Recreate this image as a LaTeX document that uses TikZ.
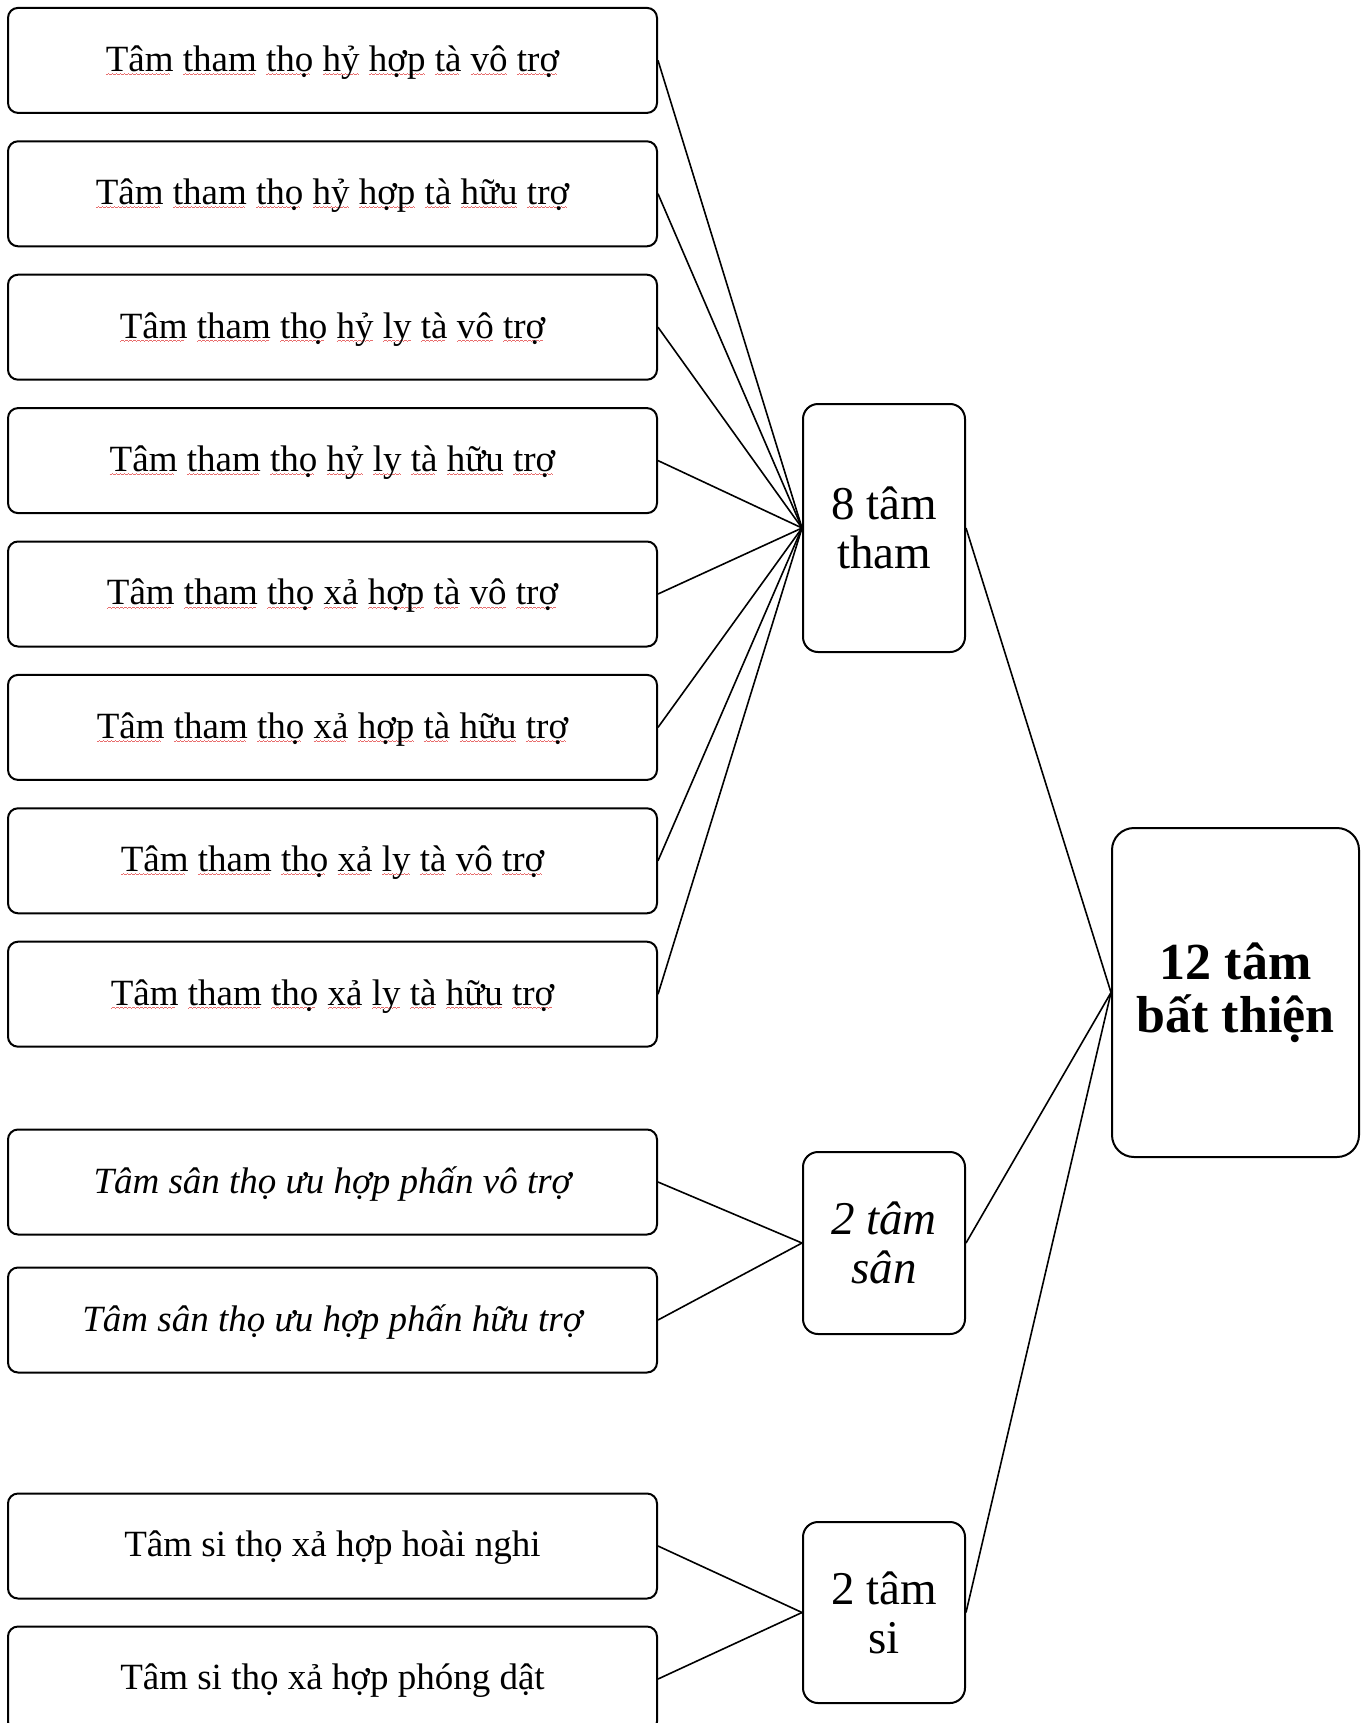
\documentclass[tikz,border=0pt]{standalone}
\usepackage{fontspec}
\setmainfont{Liberation Serif}
\definecolor{spell}{RGB}{232,110,110}
% one period of a small red zigzag, repeated under a word
\newcommand\wunit{\hbox{\rule[-3.4pt]{1pt}{0.6pt}\rule[-2.9pt]{1pt}{0.6pt}\rule[-2.4pt]{1pt}{0.6pt}\rule[-2.9pt]{1pt}{0.6pt}}}
\newcommand\wv[1]{\setbox0\hbox{#1}\rlap{\hbox to \wd0{\color{spell}\leaders\wunit\hfill}}\box0\relax}
\tikzset{
  leaf/.style={draw, line width=2pt, rounded corners=10pt, minimum width=649pt,
    minimum height=105pt, align=center, font=\fontsize{37}{44}\selectfont,
    text depth=4pt, inner sep=0pt},
  group/.style={draw, line width=2pt, rounded corners=15pt, minimum width=162pt,
    align=center, font=\fontsize{47}{49}\selectfont, inner sep=0pt},
  total/.style={draw, line width=2pt, rounded corners=22pt, minimum width=247pt,
    minimum height=329pt, align=center, font=\fontsize{52}{53}\selectfont\bfseries, inner sep=0pt},
  link/.style={line width=1.6pt}
}
\begin{document}
\begin{tikzpicture}[x=1pt,y=-1pt]
\useasboundingbox (0,0) rectangle (1368,1723);
\clip (0,0) rectangle (1368,1723);

% eight greed-rooted states
\node[leaf] (t1) at (332.5,60.4)  {\wv{Tâm} \wv{tham} \wv{thọ} \wv{hỷ} \wv{hợp} \wv{tà} \wv{vô} \wv{trợ}};
\node[leaf] (t2) at (332.5,193.8) {\wv{Tâm} \wv{tham} \wv{thọ} \wv{hỷ} \wv{hợp} \wv{tà} \wv{hữu} \wv{trợ}};
\node[leaf] (t3) at (332.5,327.2) {\wv{Tâm} \wv{tham} \wv{thọ} \wv{hỷ} \wv{ly} \wv{tà} \wv{vô} \wv{trợ}};
\node[leaf] (t4) at (332.5,460.6) {\wv{Tâm} \wv{tham} \wv{thọ} \wv{hỷ} \wv{ly} \wv{tà} \wv{hữu} \wv{trợ}};
\node[leaf] (t5) at (332.5,594.0) {\wv{Tâm} \wv{tham} \wv{thọ} \wv{xả} \wv{hợp} \wv{tà} \wv{vô} \wv{trợ}};
\node[leaf] (t6) at (332.5,727.4) {\wv{Tâm} \wv{tham} \wv{thọ} \wv{xả} \wv{hợp} \wv{tà} \wv{hữu} \wv{trợ}};
\node[leaf] (t7) at (332.5,860.8) {\wv{Tâm} \wv{tham} \wv{thọ} \wv{xả} \wv{ly} \wv{tà} \wv{vô} \wv{trợ}};
\node[leaf] (t8) at (332.5,994.2) {\wv{Tâm} \wv{tham} \wv{thọ} \wv{xả} \wv{ly} \wv{tà} \wv{hữu} \wv{trợ}};

% two hatred-rooted states
\node[leaf] (s1) at (332.5,1182) {\itshape Tâm sân thọ ưu hợp phấn vô trợ};
\node[leaf] (s2) at (332.5,1320) {\itshape Tâm sân thọ ưu hợp phấn hữu trợ};

% two delusion-rooted states
\node[leaf] (d1) at (332.5,1546) {Tâm si thọ xả hợp hoài nghi};
\node[leaf] (d2) at (332.5,1679) {Tâm si thọ xả hợp phóng dật};

% group boxes
\node[group, minimum height=248pt] (gt) at (884,528)    {8 tâm\\tham};
\node[group, minimum height=182pt] (gs) at (884,1243)   {\itshape 2 tâm\\\itshape sân};
\node[group, minimum height=181pt] (gd) at (884,1612.5) {2 tâm\\si};

% total
\node[total] (all) at (1235.5,992.5) {12 tâm\\bất thiện};

% connectors
\foreach \n in {t1,t2,t3,t4,t5,t6,t7,t8}
  \draw[link] (\n.east) -- (gt.west);
\foreach \n in {s1,s2}
  \draw[link] (\n.east) -- (gs.west);
\foreach \n in {d1,d2}
  \draw[link] (\n.east) -- (gd.west);
\foreach \n in {gt,gs,gd}
  \draw[link] (\n.east) -- (all.west);
\end{tikzpicture}
\end{document}
